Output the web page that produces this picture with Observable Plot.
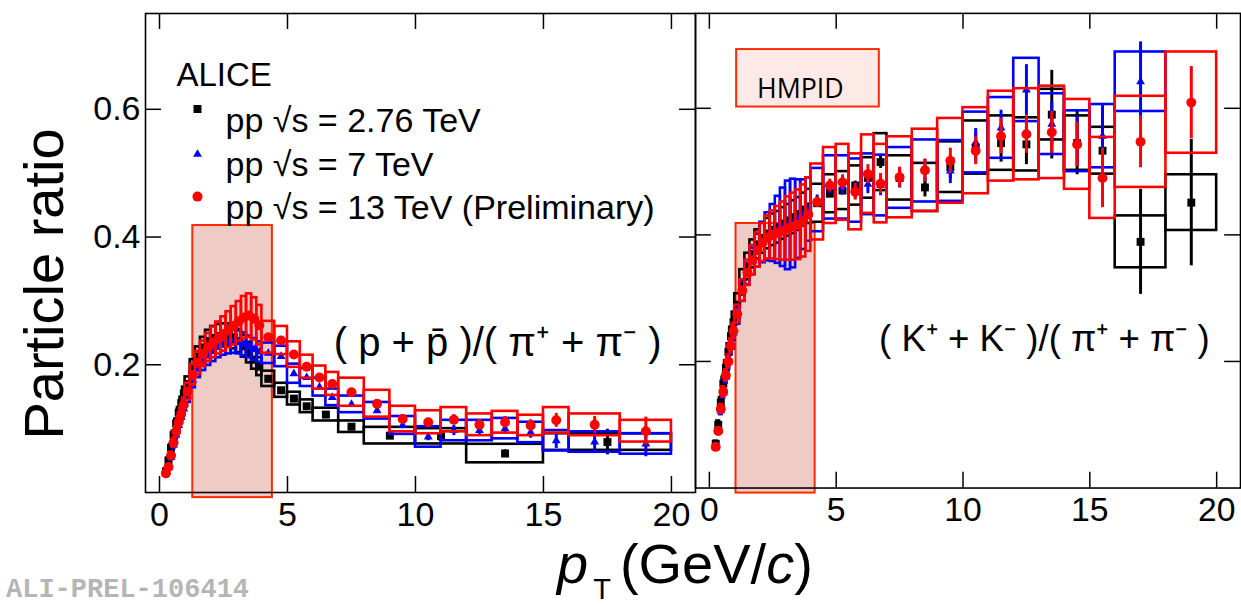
<!DOCTYPE html>
<html><head><meta charset="utf-8">
<script src="https://cdn.jsdelivr.net/npm/d3@7"></script>
<script src="https://cdn.jsdelivr.net/npm/@observablehq/plot@0.6"></script>
<style>
body{margin:0;background:#fff;overflow:hidden}
#wrap{position:relative;width:1241px;height:605px;overflow:hidden;background:#fff;font-family:"Liberation Sans",Arial,sans-serif}
#left,#right{position:absolute;top:0}
#left{left:0}
#right{left:694px}
#titles{position:absolute;left:0;top:0;pointer-events:none}
</style></head><body>
<div id="wrap">
  <div id="left"></div>
  <div id="right"></div>
  <svg id="titles" width="1241" height="605" font-family="Liberation Sans, Arial, sans-serif">
    <text transform="translate(63,284) rotate(-90)" text-anchor="middle" font-size="56">Particle ratio</text>
    <text x="557" y="583" font-size="56"><tspan font-style="italic">p</tspan><tspan font-size="29" dx="5" dy="16">T</tspan><tspan dx="9" dy="-16">(GeV/</tspan><tspan font-style="italic">c</tspan><tspan>)</tspan></text>
    <text x="6" y="597" font-family="Liberation Mono, monospace" font-weight="bold" font-size="27" fill="#b5b5b5">ALI-PREL-106414</text>
  </svg>
</div>
<script>
// ---------- axis ticks ----------
const xTicks = [0, 5, 10, 15, 20];
const yTicks = [0.2, 0.4, 0.6];

// ---------- binning (GeV/c) ----------
const ptDense = [0.25,0.35,0.45,0.55,0.65,0.75,0.85,0.95,1.1,1.3,1.5,1.7,1.9,2.1,2.3,2.5,2.7,2.9,3.1,3.3,3.5,3.7,3.9];
const hwDense = [0.05,0.05,0.05,0.05,0.05,0.05,0.05,0.05,0.1,0.1,0.1,0.1,0.1,0.1,0.1,0.1,0.1,0.1,0.1,0.1,0.1,0.1,0.1];
const ptHigh = [4.25,4.75,5.25,5.75,6.25,6.75,7.5,8.5,9.5,10.5,11.5,12.5,13.5,14.5,15.5,17,19];
const hwHigh = [0.25,0.25,0.25,0.25,0.25,0.25,0.5,0.5,0.5,0.5,0.5,0.5,0.5,0.5,0.5,1,1];
const ptHighP276 = [4.25,4.75,5.25,5.75,6.5,7.5,9,11,13.5,17.5];
const hwHighP276 = [0.25,0.25,0.25,0.25,0.5,0.5,1,1,1.5,2.5];

// ---------- (p + pbar)/(pi+ + pi-) ----------
const pPi276Dense    = [0.033,0.05,0.07,0.09,0.108,0.125,0.14,0.155,0.17,0.195,0.213,0.227,0.237,0.242,0.245,0.246,0.246,0.243,0.237,0.229,0.219,0.208,0.197];
const pPi276DenseSys = [0.003,0.004,0.005,0.006,0.007,0.008,0.009,0.01,0.011,0.013,0.015,0.016,0.017,0.018,0.018,0.018,0.018,0.018,0.018,0.017,0.016,0.015,0.014];
const pPi276High     = [0.178,0.16,0.147,0.135,0.122,0.103,0.089,0.088,0.061,0.079];
const pPi276HighStat = [0.001,0.001,0.001,0.002,0.002,0.002,0.003,0.005,0.006,0.02];
const pPi276HighSys  = [0.012,0.011,0.01,0.01,0.01,0.009,0.013,0.012,0.0145,0.013];

const pPi7Dense    = [0.03,0.039,0.055,0.074,0.09,0.105,0.118,0.131,0.151,0.176,0.193,0.205,0.214,0.221,0.227,0.232,0.235,0.236,0.235,0.232,0.228,0.224,0.22];
const pPi7DenseSys = [0.003,0.003,0.004,0.005,0.006,0.007,0.008,0.009,0.01,0.012,0.013,0.014,0.015,0.016,0.016,0.017,0.018,0.018,0.018,0.018,0.017,0.017,0.016];
const pPi7High     = [0.218,0.213,0.186,0.18,0.165,0.149,0.138,0.128,0.105,0.087,0.097,0.097,0.1,0.094,0.081,0.079,0.076];
const pPi7HighStat = [0.002,0.002,0.002,0.003,0.003,0.003,0.003,0.004,0.005,0.006,0.008,0.008,0.009,0.009,0.012,0.015,0.02];
const pPi7HighSys  = [0.016,0.016,0.015,0.014,0.014,0.013,0.013,0.013,0.014,0.016,0.016,0.016,0.016,0.016,0.016,0.016,0.016];

const pPi13Dense    = [0.03,0.04,0.058,0.078,0.095,0.11,0.123,0.137,0.158,0.184,0.203,0.217,0.227,0.235,0.242,0.248,0.255,0.261,0.268,0.274,0.277,0.272,0.262];
const pPi13DenseSys = [0.003,0.004,0.005,0.007,0.008,0.009,0.01,0.011,0.013,0.016,0.018,0.02,0.022,0.024,0.025,0.027,0.028,0.03,0.031,0.033,0.034,0.033,0.031];
const pPi13High     = [0.243,0.238,0.216,0.197,0.18,0.17,0.157,0.139,0.115,0.11,0.114,0.106,0.11,0.105,0.113,0.106,0.096];
const pPi13HighStat = [0.002,0.002,0.002,0.003,0.003,0.003,0.003,0.004,0.005,0.006,0.008,0.008,0.009,0.009,0.011,0.013,0.022];
const pPi13HighSys  = [0.025,0.022,0.02,0.018,0.018,0.018,0.022,0.021,0.02,0.018,0.019,0.017,0.017,0.016,0.02,0.017,0.017];

// ---------- (K+ + K-)/(pi+ + pi-) ----------
const kPi276Dense    = [0.07,0.1,0.135,0.165,0.19,0.215,0.24,0.262,0.29,0.325,0.35,0.37,0.385,0.395,0.402,0.408,0.412,0.418,0.423,0.428,0.433,0.44,0.445];
const kPi276DenseSys = [0.004,0.006,0.008,0.01,0.011,0.013,0.014,0.016,0.017,0.02,0.021,0.022,0.023,0.024,0.024,0.025,0.025,0.025,0.025,0.026,0.026,0.026,0.027];
const kPi276High     = [0.45,0.465,0.47,0.478,0.49,0.515,0.49,0.475,0.507,0.538,0.545,0.543,0.59,0.545,0.533,0.389,0.451];
const kPi276HighStat = [0.004,0.005,0.006,0.007,0.008,0.01,0.012,0.015,0.018,0.022,0.03,0.032,0.07,0.05,0.05,0.083,0.1];
const kPi276HighSys  = [0.03,0.03,0.03,0.031,0.032,0.045,0.035,0.038,0.04,0.042,0.043,0.042,0.04,0.043,0.037,0.041,0.044];

const kPi7Dense    = [0.064,0.09,0.122,0.15,0.175,0.198,0.222,0.245,0.272,0.31,0.338,0.358,0.375,0.388,0.397,0.403,0.408,0.412,0.415,0.418,0.425,0.432,0.44];
const kPi7DenseSys = [0.003,0.005,0.006,0.008,0.009,0.01,0.011,0.012,0.013,0.015,0.017,0.021,0.026,0.032,0.038,0.045,0.053,0.062,0.07,0.07,0.062,0.055,0.05];
const kPi7High     = [0.455,0.475,0.475,0.47,0.48,0.478,0.49,0.501,0.501,0.546,0.569,0.629,0.575,0.548,0.556,0.642];
const kPi7HighStat = [0.008,0.01,0.012,0.013,0.015,0.016,0.016,0.018,0.02,0.022,0.028,0.04,0.035,0.04,0.05,0.063];
const kPi7HighSys  = [0.05,0.05,0.05,0.05,0.048,0.048,0.048,0.049,0.048,0.048,0.048,0.05,0.048,0.048,0.05,0.047];

const kPi13Dense    = [0.065,0.09,0.125,0.152,0.178,0.2,0.225,0.248,0.275,0.312,0.34,0.36,0.376,0.388,0.396,0.4,0.403,0.406,0.41,0.413,0.416,0.422,0.432];
const kPi13DenseSys = [0.004,0.005,0.007,0.008,0.009,0.01,0.011,0.012,0.014,0.017,0.02,0.023,0.027,0.03,0.034,0.038,0.042,0.046,0.05,0.053,0.055,0.057,0.058];
const kPi13High     = [0.452,0.478,0.483,0.468,0.496,0.481,0.491,0.502,0.517,0.533,0.556,0.559,0.562,0.543,0.49,0.547,0.609];
const kPi13HighStat = [0.008,0.01,0.012,0.013,0.015,0.016,0.016,0.018,0.02,0.022,0.028,0.03,0.033,0.035,0.047,0.041,0.057];
const kPi13HighSys  = [0.06,0.06,0.06,0.06,0.062,0.062,0.064,0.065,0.067,0.068,0.071,0.072,0.073,0.071,0.064,0.072,0.08];

// ---------- labels / annotations ----------
const seriesNames  = ["pp \u221As = 2.76 TeV", "pp \u221As = 7 TeV", "pp \u221As = 13 TeV (Preliminary)"];
const seriesColors = ["#000000", "#0000ff", "#ff0000"];
const seriesSymbols = ["square", "triangle", "circle"];
const panelTitles = ["( p + p\u0304 )/( \u03c0\u207a + \u03c0\u207b )", "( K\u207a + K\u207b )/( \u03c0\u207a + \u03c0\u207b )"];
const highlightPt = [[1.3, 4.41], [1.05, 4.17]];
const highlightRatio = [-0.008, 0.418];

// ---------- build rows ----------
function rows(dense, denseSys, high, highStat, highSys, ptH, hwH) {
  const out = [];
  dense.forEach((v, i) => out.push({pt: ptDense[i], hw: hwDense[i], v, stat: 0, sys: denseSys[i]}));
  high.forEach((v, i) => out.push({pt: ptH[i], hw: hwH[i], v, stat: highStat[i], sys: highSys[i]}));
  return out;
}
const panels = [
  [rows(pPi276Dense, pPi276DenseSys, pPi276High, pPi276HighStat, pPi276HighSys, ptHighP276, hwHighP276),
   rows(pPi7Dense, pPi7DenseSys, pPi7High, pPi7HighStat, pPi7HighSys, ptHigh, hwHigh),
   rows(pPi13Dense, pPi13DenseSys, pPi13High, pPi13HighStat, pPi13HighSys, ptHigh, hwHigh)],
  [rows(kPi276Dense, kPi276DenseSys, kPi276High, kPi276HighStat, kPi276HighSys, ptHigh, hwHigh),
   rows(kPi7Dense, kPi7DenseSys, kPi7High, kPi7HighStat, kPi7HighSys, ptHigh, hwHigh),
   rows(kPi13Dense, kPi13DenseSys, kPi13High, kPi13HighStat, kPi13HighSys, ptHigh, hwHigh)]
];

const symR = {square: 4.5, triangle: 3.3, circle: 5};
const FONT = "Liberation Sans, Arial, sans-serif";

function makePanel(p, opts) {
  const marks = [];
  marks.push(Plot.rect([highlightPt[p]], {
    x1: d => d[0], x2: d => d[1], y1: highlightRatio[0], y2: highlightRatio[1],
    fill: "#efcbc5", stroke: "#ff2a00", strokeWidth: 2
  }));
  panels[p].forEach((data, s) => {
    const color = seriesColors[s];
    marks.push(Plot.rect(data, {
      x1: d => d.pt - d.hw, x2: d => d.pt + d.hw,
      y1: d => d.v - d.sys, y2: d => d.v + d.sys,
      fill: "none", stroke: color, strokeWidth: 2.6
    }));
    marks.push(Plot.ruleX(data.filter(d => d.stat > 0), {
      x: "pt", y1: d => d.v - d.stat, y2: d => d.v + d.stat, stroke: color, strokeWidth: 3
    }));
    marks.push(Plot.dot(data, {x: "pt", y: "v", symbol: seriesSymbols[s], r: symR[seriesSymbols[s]], fill: color}));
  });
  // frame and inward ticks on all four sides
  marks.push(Plot.frame({stroke: "#000", strokeWidth: 1.6}));
  marks.push(Plot.tickX(xTicks, {x: d => d, insetTop: 463, stroke: "#000", strokeWidth: 1.5}));
  marks.push(Plot.tickX(xTicks, {x: d => d, insetBottom: 463, stroke: "#000", strokeWidth: 1.5}));
  marks.push(Plot.tickY(yTicks, {y: d => d, insetRight: 534, stroke: "#000", strokeWidth: 1.5}));
  marks.push(Plot.tickY(yTicks, {y: d => d, insetLeft: 534, stroke: "#000", strokeWidth: 1.5}));
  // panel title
  marks.push(Plot.text([panelTitles[p]], {text: d => d, frameAnchor: "top-right", textAnchor: "end",
    dx: p === 0 ? -34 : -31, dy: 314, fontSize: p === 0 ? 40 : 37, fill: "#000"}));
  if (p === 0) {
    marks.push(Plot.text(["ALICE"], {text: d => d, frameAnchor: "top-left", textAnchor: "start", dx: 31, dy: 49, fontSize: 33, fill: "#000"}));
    seriesNames.forEach((name, i) => {
      marks.push(Plot.dot([name], {frameAnchor: "top-left", dx: 52, dy: 95.5 + i * 43.8 + (i === 1 ? 1.5 : 0), symbol: seriesSymbols[i], r: symR[seriesSymbols[i]], fill: seriesColors[i]}));
      marks.push(Plot.text([name], {text: d => d, frameAnchor: "top-left", textAnchor: "start", dx: 80, dy: 94.5 + i * 43.5, fontSize: 34, fill: "#000"}));
    });
  } else {
    marks.push(Plot.frame({fill: "#fdeae7", stroke: "#ff2a00", strokeWidth: 2, insetLeft: 41, insetRight: 365, insetTop: 36, insetBottom: 385}));
    marks.push(Plot.text(["HMPID"], {text: d => d, frameAnchor: "top-left", textAnchor: "start", dx: 62, dy: 66, fontSize: 27, fontFamily: "Open Sans, Lato, sans-serif", fill: "#000"}));
  }
  return Plot.plot({
    width: opts.width, height: 540,
    marginLeft: opts.marginLeft, marginRight: opts.marginRight, marginTop: 13, marginBottom: 48,
    x: {domain: [-0.547, 20.94], ticks: xTicks, tickSize: 0, tickPadding: 9, label: null},
    y: {domain: [0, 0.75], ticks: yTicks, tickSize: 0, tickPadding: 5, label: null, axis: opts.yAxis ? "left" : null},
    style: {fontSize: "34px", fontFamily: FONT, background: "transparent", overflow: "visible", color: "#000"},
    marks
  });
}

document.getElementById("left").appendChild(makePanel(0, {width: 696, marginLeft: 145, marginRight: 1, yAxis: true}));
document.getElementById("right").appendChild(makePanel(1, {width: 552, marginLeft: 1, marginRight: 1, yAxis: false}));
</script>
</body></html>
